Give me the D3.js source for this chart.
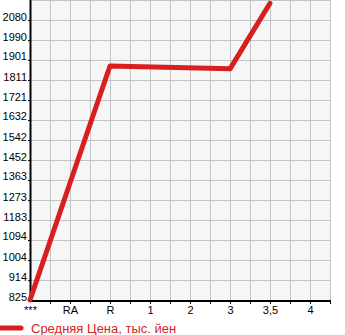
<!DOCTYPE html>
<meta charset="utf-8">
<script src="https://d3js.org/d3.v7.min.js"></script>
<style>
  body { margin: 0; background: #fff; }
  text { font-family: "Liberation Sans", Arial, sans-serif; }
</style>
<body>
<div id="chart"></div>
<script>
// categories on the x axis
var categories = ["***", "RA", "R", "1", "2", "3", "3,5", "4"];
// average price, thousand yen (null = no data)
var prices = [825, null, 1874, null, null, 1861, 2155, null];
// y tick labels
var yTicks = [825, 914, 1004, 1094, 1183, 1273, 1363, 1452, 1542, 1632, 1721, 1811, 1901, 1990, 2080];
var legendLabel = "Средняя Цена, тыс. йен";

var W = 345, H = 335;
var mLeft = 31, mRight = 330, mTop = 0, mBottom = 300;

var svg = d3.select("#chart").append("svg")
  .attr("width", W)
  .attr("height", H);

// plot background
svg.append("rect")
  .attr("x", mLeft).attr("y", mTop)
  .attr("width", mRight - mLeft).attr("height", mBottom - mTop)
  .attr("fill", "#f6f6f6");

// y scale: 825 at bottom, 20px per step
var step = (2080 - 825) / 14;
var y = d3.scaleLinear()
  .domain([825, 825 + 15 * step])
  .range([mBottom, mTop]);

var x = d3.scalePoint()
  .domain(categories)
  .range([30, 310]);

// grid lines
var grid = svg.append("g").attr("stroke", "#c4c4c4").attr("stroke-width", 1);
for (var gx = 50; gx <= mRight; gx += 20) {
  grid.append("line")
    .attr("x1", gx + 0.5).attr("x2", gx + 0.5)
    .attr("y1", mTop).attr("y2", mBottom);
}
yTicks.concat([825 + 15 * step]).forEach(function(v) {
  grid.append("line")
    .attr("x1", mLeft).attr("x2", mRight)
    .attr("y1", Math.round(y(v)) + 0.5).attr("y2", Math.round(y(v)) + 0.5);
});

// y axis
var yAxis = svg.append("g")
  .attr("transform", "translate(" + mLeft + ",0)")
  .call(d3.axisLeft(y).tickValues(yTicks).tickSize(3).tickPadding(1).tickFormat(d3.format("d")));
yAxis.select(".domain").remove();
yAxis.selectAll("text")
  .attr("dy", "0")
  .style("font-size", "11px")
  .attr("fill", "#000");
svg.append("line")
  .attr("x1", mLeft - 0.5).attr("x2", mLeft - 0.5)
  .attr("y1", mTop).attr("y2", mBottom + 1)
  .attr("stroke", "#000").attr("stroke-width", 2);

// x axis
var xAxis = svg.append("g")
  .attr("transform", "translate(0," + mBottom + ")")
  .call(d3.axisBottom(x).tickSize(0).tickPadding(6));
xAxis.select(".domain").remove();
xAxis.selectAll("text")
  .style("font-size", "11px")
  .attr("fill", "#000");
var minor = svg.append("g").attr("stroke", "#000");
for (var tx = 50; tx <= mRight; tx += 20) {
  minor.append("line")
    .attr("x1", tx + 0.5).attr("x2", tx + 0.5)
    .attr("y1", mBottom).attr("y2", mBottom + 4);
}
svg.append("line")
  .attr("x1", mLeft - 1).attr("x2", mRight + 1)
  .attr("y1", mBottom + 1).attr("y2", mBottom + 1)
  .attr("stroke", "#000").attr("stroke-width", 2);

// price line
var pts = categories.map(function(c, i) { return { c: c, v: prices[i] }; })
  .filter(function(d) { return d.v != null; });
var line = d3.line()
  .x(function(d) { return x(d.c); })
  .y(function(d) { return y(d.v); });
svg.append("path")
  .datum(pts)
  .attr("d", line)
  .attr("fill", "none")
  .attr("stroke", "#d71f1f")
  .attr("stroke-width", 5)
  .attr("stroke-linejoin", "round")
  .attr("stroke-linecap", "round");

// legend
svg.append("line")
  .attr("x1", 0).attr("x2", 21)
  .attr("y1", 328).attr("y2", 328)
  .attr("stroke", "#d71f1f").attr("stroke-width", 5)
  .attr("stroke-linecap", "round");
svg.append("text")
  .attr("x", 31).attr("y", 333)
  .style("font-size", "13px")
  .attr("fill", "#d71f1f")
  .text(legendLabel);
</script>
</body>
